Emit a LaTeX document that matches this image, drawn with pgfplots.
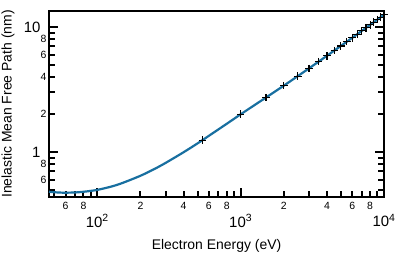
\documentclass[border=0pt]{standalone}
\usepackage{fontspec}
\setmainfont{Liberation Sans}
\usepackage{pgfplots}
\usepackage{pgfplotstable}
\pgfplotsset{compat=1.18}
\definecolor{imfpblue}{HTML}{186FA0}

% IMFP curve (energy in eV, lambda in nm)
\pgfplotstableread{
E lambda
46 0.480
50 0.476
55 0.473
60 0.472
70 0.474
80 0.480
90 0.488
100 0.497
125 0.528
150 0.565
200 0.645
250 0.730
300 0.818
400 0.995
500 1.170
600 1.345
700 1.515
800 1.680
900 1.842
1000 2.000
1250 2.370
1500 2.720
2000 3.390
2500 4.036
3000 4.664
3500 5.277
4000 5.876
4500 6.465
5000 7.045
5500 7.616
6000 8.180
6500 8.737
7000 9.289
7500 9.835
8000 10.376
8500 10.913
9000 11.445
9500 11.974
10000 12.499
}\curvetable

% calculated points
\pgfplotstableread{
E lambda
540 1.240
1000 2.000
1500 2.720
2000 3.390
2500 4.036
3000 4.664
3500 5.277
4000 5.876
4500 6.465
5000 7.045
5500 7.616
6000 8.180
6500 8.737
7000 9.289
7500 9.835
8000 10.376
8500 10.913
9000 11.445
9500 11.974
10000 12.499
}\pointtable

\begin{document}
\begin{tikzpicture}[x=1bp,y=1bp]
\useasboundingbox (0,0) rectangle (396,260);
\begin{axis}[
  at={(49bp,63bp)}, anchor=south west,
  width=335bp, height=186bp, scale only axis,
  xmode=log, ymode=log,
  xmin=46, xmax=10000, ymin=0.436, ymax=13.4,
  axis line style={line width=2bp},
  every tick/.style={black, line width=2bp},
  tick align=inside,
  xtick pos=bottom, ytick pos=both, yticklabel pos=left,
  major tick length=9.5bp, minor tick length=6bp,
  xtick={100,1000,10000},
  xticklabels={10\textsuperscript{2},10\textsuperscript{3},10\textsuperscript{4}},
  minor xtick={50,60,70,80,90,200,300,400,500,600,700,800,900,2000,3000,4000,5000,6000,7000,8000,9000},
  ytick={1,10},
  yticklabels={1,10},
  minor ytick={0.5,0.6,0.7,0.8,0.9,2,3,4,5,6,7,8,9},
  xticklabel style={font=\fontsize{15}{15}\selectfont, yshift=-14bp},
  yticklabel style={font=\fontsize{15}{15}\selectfont, xshift=-5bp},
  extra x ticks={60,80,200,400,600,800,2000,4000,6000,8000},
  extra x tick labels={6,8,2,4,6,8,2,4,6,8},
  extra x tick style={major tick length=6bp,
    xticklabel style={font=\fontsize{10.5}{10.5}\selectfont, yshift=12bp}},
  extra y ticks={0.6,0.8,2,4,6,8},
  extra y tick labels={6,8,2,4,6,8},
  extra y tick style={major tick length=6bp,
    yticklabel style={font=\fontsize{10.5}{10.5}\selectfont, xshift=6bp}},
  xlabel={Electron Energy (eV)},
  ylabel={Inelastic Mean Free Path (nm)},
  xlabel style={font=\fontsize{14}{14}\selectfont, at={(axis description cs:0.5,-0.263)}, anchor=center},
  ylabel style={font=\fontsize{14}{14}\selectfont, at={(axis description cs:-0.122,0.5)}, anchor=center},
  clip=false,
]
\addplot[imfpblue, line width=2.2bp, smooth] table[x=E, y=lambda] {\curvetable};
\addplot[only marks, mark=+, mark size=3.8bp, black, mark options={line width=1.2bp}] table[x=E, y=lambda] {\pointtable};
\end{axis}
\end{tikzpicture}
\end{document}
